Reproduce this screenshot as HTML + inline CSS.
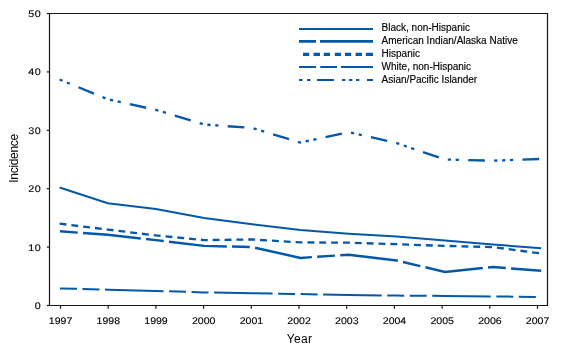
<!DOCTYPE html>
<html><head><meta charset="utf-8"><style>
html,body{margin:0;padding:0;background:#fff;width:562px;height:350px;overflow:hidden}
svg{display:block;will-change:transform}
.t{font-family:"Liberation Sans",sans-serif;font-size:10px;fill:#000;stroke:#000;stroke-width:0.15px}
.n{font-family:"Liberation Sans",sans-serif;font-size:9.6px;letter-spacing:0.5px;text-rendering:geometricPrecision;fill:#000;stroke:#000;stroke-width:0.12px}
.l{font-family:"Liberation Sans",sans-serif;font-size:11px;fill:#000}
</style></head><body>
<svg width="562" height="350" viewBox="0 0 562 350">
<path d="M49.5 13.5H547.5V305.5H49.5Z" fill="none" stroke="#161616" stroke-width="1.2"/>
<line x1="46.8" y1="305.5" x2="49.5" y2="305.5" stroke="#161616" stroke-width="1.2"/>
<text transform="translate(41.0,308.9) scale(1.12,1)" text-anchor="end" class="n" style="letter-spacing:0.3px">0</text>
<line x1="46.8" y1="247.1" x2="49.5" y2="247.1" stroke="#161616" stroke-width="1.2"/>
<text transform="translate(41.0,250.5) scale(1.12,1)" text-anchor="end" class="n" style="letter-spacing:0.3px">10</text>
<line x1="46.8" y1="188.7" x2="49.5" y2="188.7" stroke="#161616" stroke-width="1.2"/>
<text transform="translate(41.0,192.1) scale(1.12,1)" text-anchor="end" class="n" style="letter-spacing:0.3px">20</text>
<line x1="46.8" y1="130.3" x2="49.5" y2="130.3" stroke="#161616" stroke-width="1.2"/>
<text transform="translate(41.0,133.7) scale(1.12,1)" text-anchor="end" class="n" style="letter-spacing:0.3px">30</text>
<line x1="46.8" y1="71.9" x2="49.5" y2="71.9" stroke="#161616" stroke-width="1.2"/>
<text transform="translate(41.0,75.3) scale(1.12,1)" text-anchor="end" class="n" style="letter-spacing:0.3px">40</text>
<line x1="46.8" y1="13.5" x2="49.5" y2="13.5" stroke="#161616" stroke-width="1.2"/>
<text transform="translate(41.0,16.9) scale(1.12,1)" text-anchor="end" class="n" style="letter-spacing:0.3px">50</text>
<line x1="60.5" y1="305.5" x2="60.5" y2="308.8" stroke="#161616" stroke-width="1.2"/>
<text transform="translate(60.60,324) scale(1.1,1)" text-anchor="middle" class="n" style="letter-spacing:0">1997</text>
<line x1="108.2" y1="305.5" x2="108.2" y2="308.8" stroke="#161616" stroke-width="1.2"/>
<text transform="translate(108.30,324) scale(1.1,1)" text-anchor="middle" class="n" style="letter-spacing:0">1998</text>
<line x1="155.9" y1="305.5" x2="155.9" y2="308.8" stroke="#161616" stroke-width="1.2"/>
<text transform="translate(156.00,324) scale(1.1,1)" text-anchor="middle" class="n" style="letter-spacing:0">1999</text>
<line x1="203.6" y1="305.5" x2="203.6" y2="308.8" stroke="#161616" stroke-width="1.2"/>
<text transform="translate(203.70,324) scale(1.1,1)" text-anchor="middle" class="n" style="letter-spacing:0">2000</text>
<line x1="251.3" y1="305.5" x2="251.3" y2="308.8" stroke="#161616" stroke-width="1.2"/>
<text transform="translate(251.40,324) scale(1.1,1)" text-anchor="middle" class="n" style="letter-spacing:0">2001</text>
<line x1="299.0" y1="305.5" x2="299.0" y2="308.8" stroke="#161616" stroke-width="1.2"/>
<text transform="translate(299.10,324) scale(1.1,1)" text-anchor="middle" class="n" style="letter-spacing:0">2002</text>
<line x1="346.7" y1="305.5" x2="346.7" y2="308.8" stroke="#161616" stroke-width="1.2"/>
<text transform="translate(346.80,324) scale(1.1,1)" text-anchor="middle" class="n" style="letter-spacing:0">2003</text>
<line x1="394.4" y1="305.5" x2="394.4" y2="308.8" stroke="#161616" stroke-width="1.2"/>
<text transform="translate(394.50,324) scale(1.1,1)" text-anchor="middle" class="n" style="letter-spacing:0">2004</text>
<line x1="442.1" y1="305.5" x2="442.1" y2="308.8" stroke="#161616" stroke-width="1.2"/>
<text transform="translate(442.20,324) scale(1.1,1)" text-anchor="middle" class="n" style="letter-spacing:0">2005</text>
<line x1="489.8" y1="305.5" x2="489.8" y2="308.8" stroke="#161616" stroke-width="1.2"/>
<text transform="translate(489.90,324) scale(1.1,1)" text-anchor="middle" class="n" style="letter-spacing:0">2006</text>
<line x1="537.5" y1="305.5" x2="537.5" y2="308.8" stroke="#161616" stroke-width="1.2"/>
<text transform="translate(537.60,324) scale(1.1,1)" text-anchor="middle" class="n" style="letter-spacing:0">2007</text>
<text x="299.6" y="343" text-anchor="middle" class="l" style="font-size:12px;letter-spacing:0.4px">Year</text>
<text transform="translate(18,158.4) rotate(-90)" text-anchor="middle" class="l" style="font-size:12px;letter-spacing:-0.3px">Incidence</text>
<polyline fill="none" stroke="#0358a8" stroke-width="2" stroke-dasharray="17 5.5 17 5.5 58.6 5.5" stroke-dashoffset="-0.4" points="59.6,288.4 107.8,289.7 155.9,290.9 204.1,292.4 252.2,293.2 300.4,294.1 348.6,295.0 396.7,295.6 444.9,295.9 493.0,296.4 541.2,297.0"/>
<polyline fill="none" stroke="#0358a8" stroke-width="2.45" stroke-dasharray="17.8 5.3 58 5.3" stroke-dashoffset="-0.4" points="59.6,231.3 107.8,234.8 155.9,240.1 204.1,245.9 252.2,247.1 300.4,257.9 348.6,254.7 396.7,260.5 444.9,271.9 493.0,267.0 541.2,270.8"/>
<polyline fill="none" stroke="#0358a8" stroke-width="2.35" stroke-dasharray="6.9 4.95" points="59.6,223.7 107.8,229.6 155.9,235.4 204.1,240.1 252.2,239.5 300.4,242.4 348.6,242.7 396.7,244.2 444.9,245.9 493.0,247.1 541.2,253.5"/>
<polyline fill="none" stroke="#0358a8" stroke-width="2" points="59.6,187.5 107.8,203.3 155.9,209.1 204.1,217.9 252.2,224.3 300.4,229.9 348.6,233.7 396.7,236.6 444.9,240.4 493.0,244.5 541.2,248.3"/>
<polyline fill="none" stroke="#0358a8" stroke-width="2.35" stroke-dasharray="3.2 4.7 3.2 9.3 16.7 9.3 3.2 4.7 3.2 4.7 3.2 9.3 16.7 9.3" points="59.6,79.5 107.8,99.3 155.9,109.9 204.1,124.5 252.2,128.0 300.4,142.6 348.6,132.1 396.7,143.1 444.9,159.5 493.0,160.7 541.2,158.9"/>
<path d="M299 29H373" stroke="#0358a8" stroke-width="2" fill="none"/>
<text x="381.6" y="30.9" class="t">Black, non-Hispanic</text>
<path d="M299 41.3H316M320 41.3H373" stroke="#0358a8" stroke-width="2.7" fill="none"/>
<text x="381.6" y="43.7" class="t">American Indian/Alaska Native</text>
<path d="M303 54.4H309.2M313.6 54.4H320M323.8 54.4H330M334.8 54.4H341M345 54.4H351.2M355.6 54.4H362M365.8 54.4H373" stroke="#0358a8" stroke-width="3.2" fill="none"/>
<text x="381.6" y="56.7" class="t">Hispanic</text>
<path d="M299 66.9H316M320.3 66.9H337M341 66.9H373" stroke="#0358a8" stroke-width="2" fill="none"/>
<text x="381.6" y="69.6" class="t">White, non-Hispanic</text>
<path d="M299 80H302.5M307 80H310.5M317 80H334M342 80H345.3M349 80H352.3M356 80H359.3M367 80H373" stroke="#0358a8" stroke-width="2.2" fill="none"/>
<text x="381.6" y="82.5" class="t">Asian/Pacific Islander</text>
</svg>
</body></html>
